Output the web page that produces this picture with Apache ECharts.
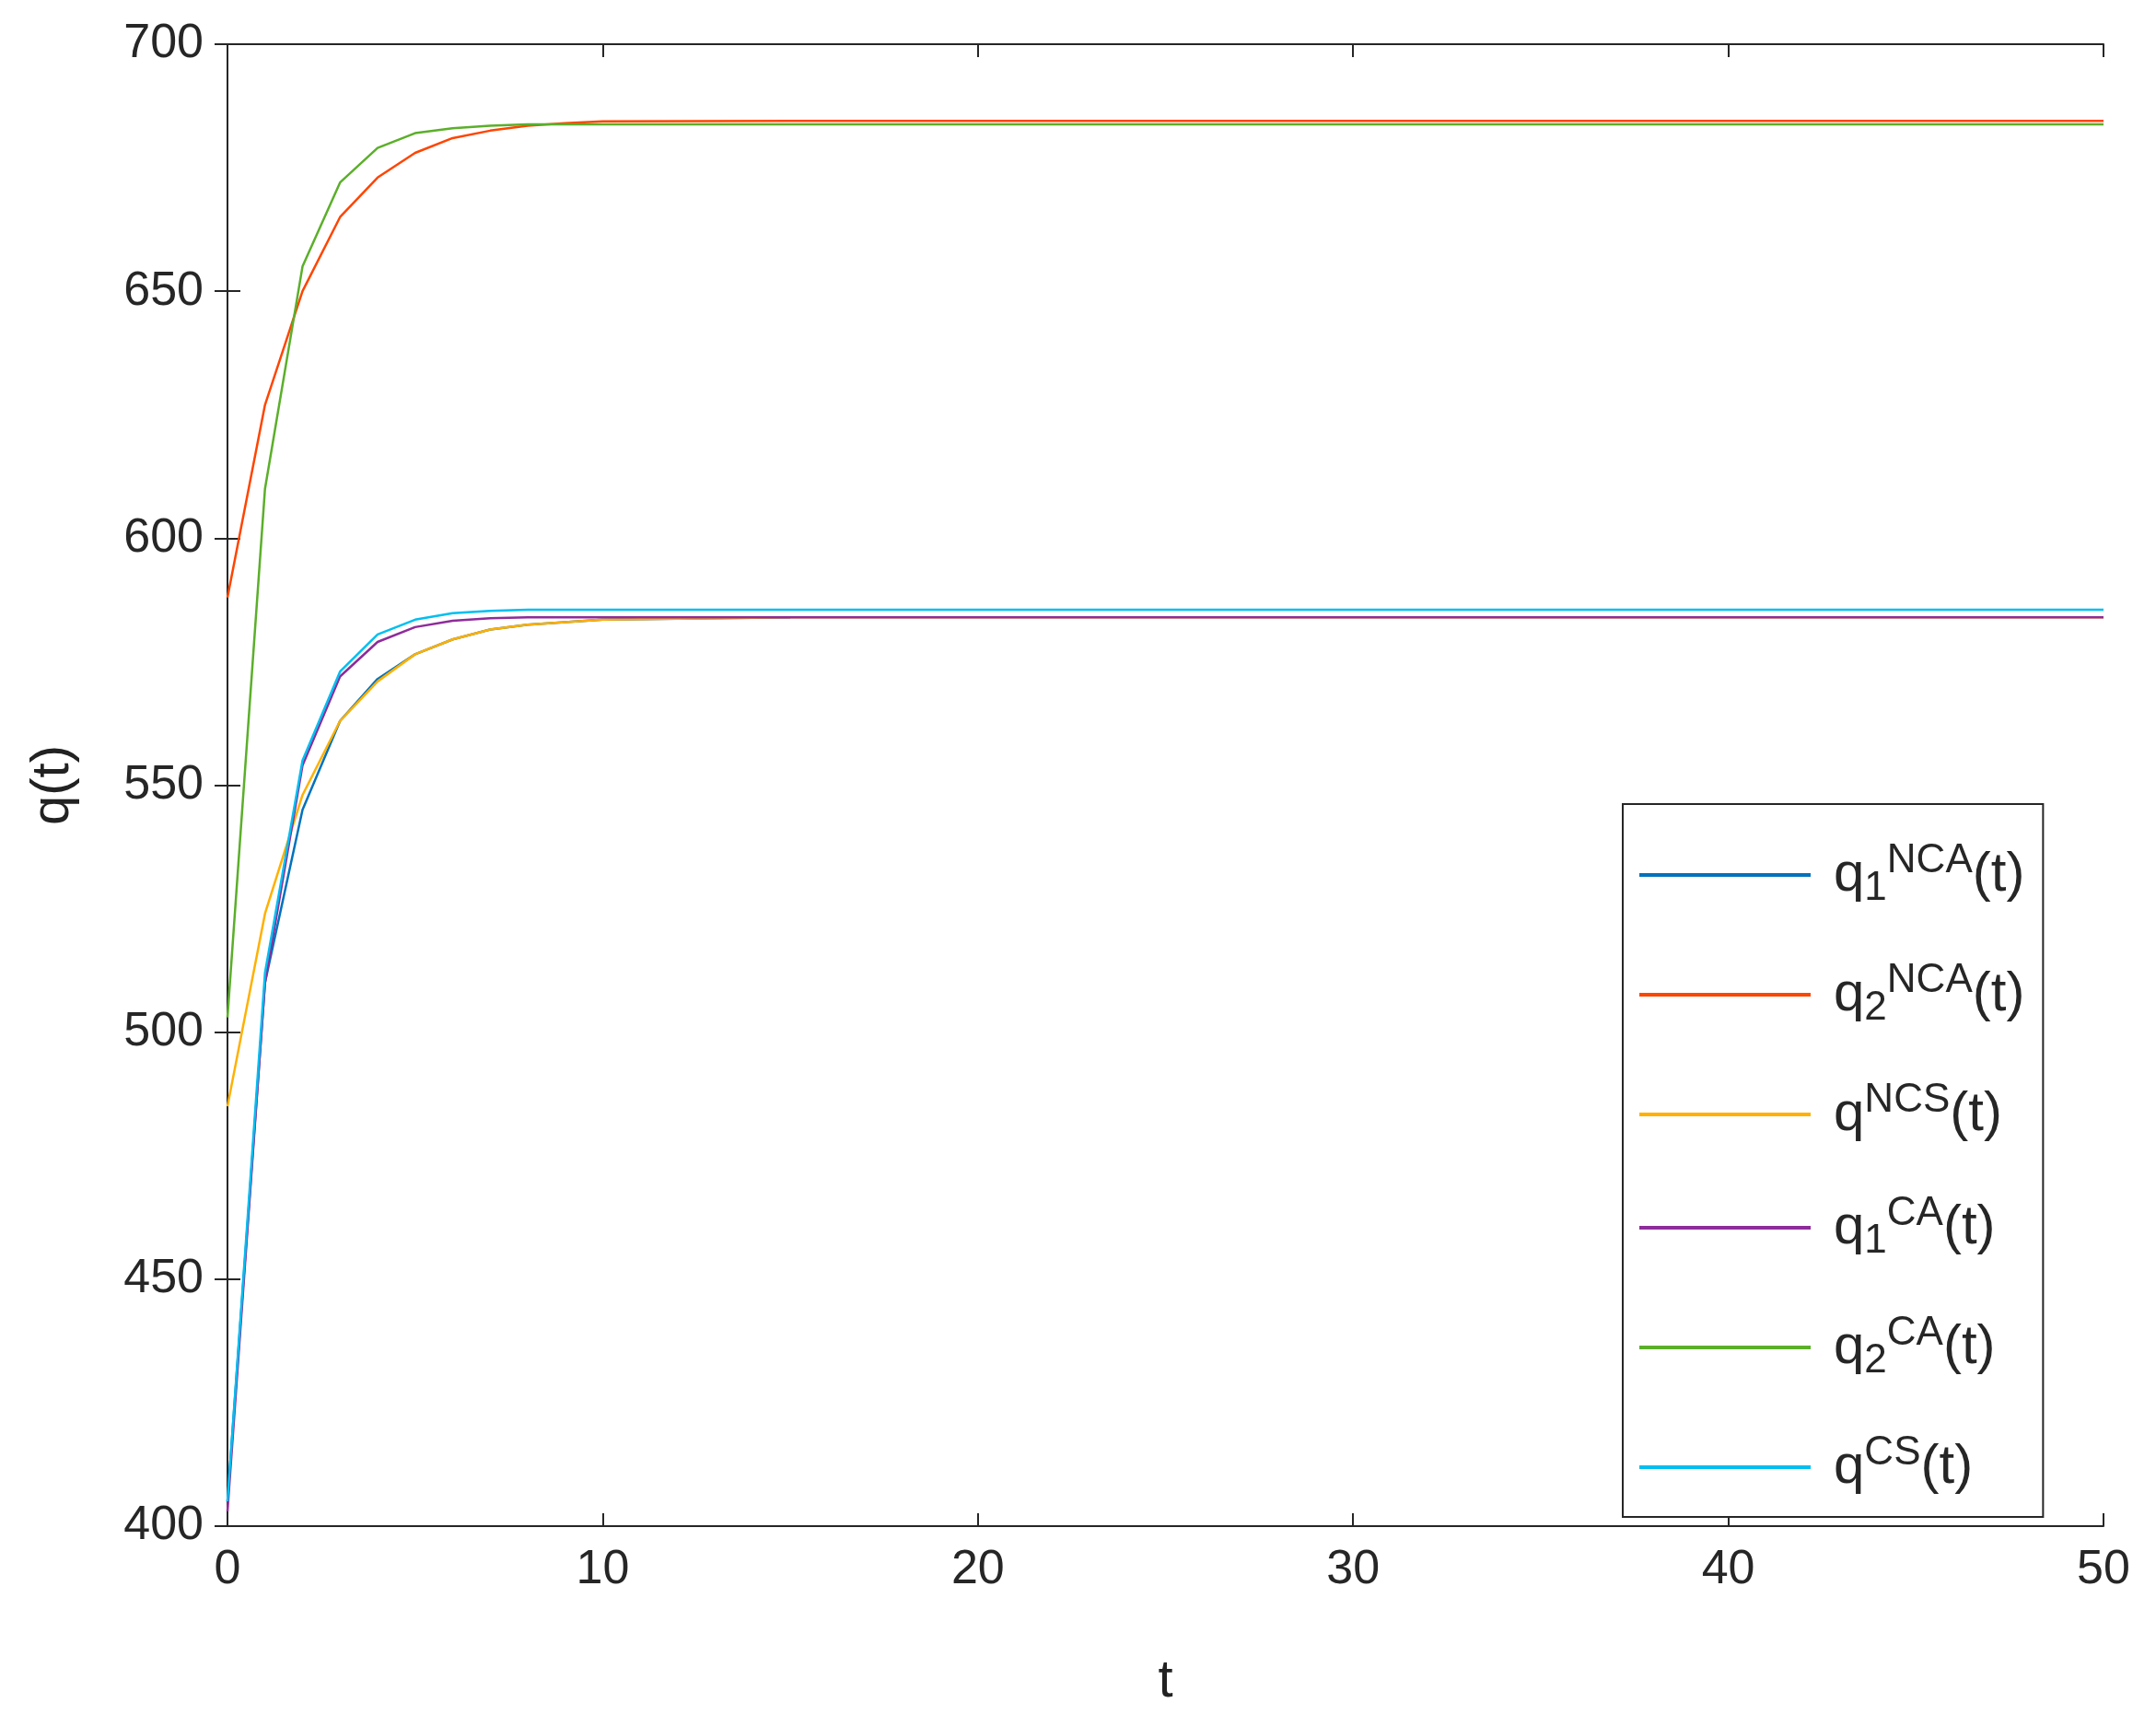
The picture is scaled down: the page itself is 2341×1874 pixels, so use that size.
<!DOCTYPE html><html><head><meta charset="utf-8">
<script src="https://cdn.jsdelivr.net/npm/echarts@6/dist/echarts.min.js"></script>
<style>html,body{margin:0;background:#fff}#c{width:2341px;height:1874px}</style></head><body><div id="c"></div>
<script>
const tVals = [0,1,2,3,4,5,6,7,8,9,10,15,50];
const q1NCA = [405,510,545,563,571.5,576.5,579.5,581.5,582.5,583,583.5,584,null];
const q2NCA = [588,627,650,665,673,678,681,682.5,683.5,684,684.4,684.5,684.5];
const qNCS  = [485,524,548,563,571,576.5,579.5,581.5,582.5,583,583.5,584,584];
const q1CA  = [403,510,554,572,579,582,583.3,583.8,584,584,584,584,584];
const q2CA  = [503,610,655,672,679,682,683,683.5,683.8,683.8,683.8,683.8,683.8];
const qCS   = [405,512,555,573,580.5,583.5,584.8,585.3,585.5,585.5,585.5,585.5,585.5];
const names = ['q1NCA','q2NCA','qNCS','q1CA','q2CA','qCS'];
const labels = {q1NCA:['NCA','1'],q2NCA:['NCA','2'],qNCS:['NCS',''],q1CA:['CA','1'],q2CA:['CA','2'],qCS:['CS','']};
const colors = ['#0072BD','#FF4500','#FFB000','#8E2C9A','#5BAF2A','#00BFF0'];
const vals = [q1NCA,q2NCA,qNCS,q1CA,q2CA,qCS];
const chart = echarts.init(document.getElementById('c'));
const ff = 'Liberation Sans, Arial, sans-serif';
const axisCommon = {axisLine:{lineStyle:{color:'#262626',width:2}},axisTick:{inside:true,length:14,lineStyle:{color:'#262626',width:2}},splitLine:{show:false}};
chart.setOption({
  animation:false,
  grid:{left:247,right:57,top:48,bottom:217},
  xAxis:[Object.assign({type:'value',min:0,max:50,interval:10,name:'t',nameLocation:'middle',nameGap:140,
    nameTextStyle:{fontSize:58,color:'#222',fontFamily:ff},
    axisLabel:{fontSize:52,color:'#262626',margin:22,fontFamily:ff}},axisCommon),
    Object.assign({type:'value',min:0,max:50,interval:10,position:'top',axisLabel:{show:false}},axisCommon)],
  yAxis:[Object.assign({type:'value',min:400,max:700,interval:50,name:'q(t)',nameLocation:'middle',nameGap:160,
    nameTextStyle:{fontSize:58,color:'#222',fontFamily:ff},
    axisLabel:{fontSize:52,color:'#262626',margin:26,fontFamily:ff}},axisCommon),
    Object.assign({type:'value',min:400,max:700,interval:50,position:'right',axisLabel:{show:false}},axisCommon)],
  legend:{orient:'vertical',left:1762,top:873,itemWidth:186,itemHeight:4,itemGap:56,
    padding:[40,20,24,18],borderColor:'#262626',borderWidth:2,backgroundColor:'#fff',icon:'rect',
    formatter:n=>{const l=labels[n];return '{b|q}'+(l[1]?'{sub|'+l[1]+'}':'')+'{s|'+l[0]+'}{b|(t)}';},
    textStyle:{fontFamily:ff,color:'#262626',padding:[0,0,0,20],rich:{
      b:{fontSize:60,fontFamily:ff,color:'#262626'},
      s:{fontSize:44,fontFamily:ff,color:'#262626',verticalAlign:'top',padding:[0,0,30,0]},
      sub:{fontSize:44,fontFamily:ff,color:'#262626',verticalAlign:'bottom',padding:[30,0,0,0]}}}},
  series:names.map((n,i)=>({name:n,type:'line',showSymbol:false,color:colors[i],lineStyle:{width:2.5},
    data:tVals.map((t,j)=>[t,vals[i][j]])}))
});
</script></body></html>
